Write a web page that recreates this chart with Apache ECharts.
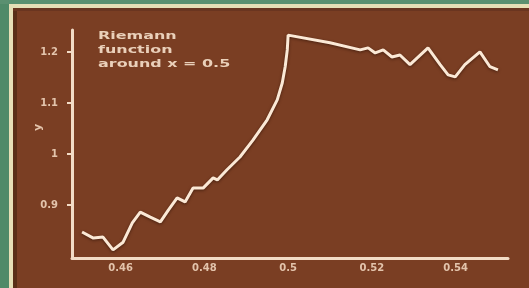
<!DOCTYPE html>
<html>
<head>
<meta charset="utf-8">
<script src="https://cdn.jsdelivr.net/npm/echarts@6/dist/echarts.min.js"></script>
<style>
html,body{margin:0;padding:0;background:#4f8a68;}
#c{width:529px;height:288px;}
</style>
</head>
<body>
<div id="c"></div>
<script>
// x values of the curve
const xs = [0.4508,0.4535,0.4558,0.4582,0.4606,0.4628,0.4647,0.4671,0.4695,0.4714,0.4735,0.4754,0.4773,0.4797,0.4821,0.4831,0.4854,0.4885,0.4916,0.4950,0.4974,0.4986,0.4993,0.4998,0.5000,0.5100,0.5172,0.5191,0.5208,0.5227,0.5248,0.5267,0.5291,0.5334,0.5363,0.5382,0.5399,0.5422,0.5458,0.5482,0.5501];
// y values of the curve
const ys = [0.847,0.835,0.837,0.812,0.827,0.865,0.886,0.876,0.867,0.890,0.914,0.906,0.933,0.933,0.953,0.949,0.969,0.994,1.027,1.067,1.106,1.139,1.171,1.204,1.233,1.218,1.204,1.208,1.198,1.204,1.190,1.194,1.175,1.208,1.175,1.155,1.151,1.175,1.200,1.171,1.165];
const xTicks = [0.46,0.48,0.5,0.52,0.54];
const yTicks = [0.9,1,1.1,1.2];
const noteLines = ['Riemann','function','around x = 0.5'];

const cream = '#f3dcc6';
const chart = echarts.init(document.getElementById('c'));
const data = xs.map((x,i)=>[x,ys[i]]);
chart.setOption({
  animation:false,
  backgroundColor:'#7a3e23',
  grid:{left:72,right:21,top:30,bottom:30},
  xAxis:{type:'value',min:0.4484,max:0.5525,
    axisLine:{lineStyle:{color:cream,width:3}},
    axisTick:{show:false},
    splitLine:{show:false},
    axisLabel:{color:'#e3c4ac',fontSize:10,fontWeight:'bold',fontFamily:'DejaVu Sans',margin:5,
      customValues:xTicks, formatter:v=>String(+v.toFixed(2))},
  },
  yAxis:{type:'value',min:0.796,max:1.243,
    axisLine:{show:true,lineStyle:{color:cream,width:3}},
    axisTick:{show:true,length:5,inside:false,customValues:yTicks,lineStyle:{color:cream,width:2}},
    splitLine:{show:false},
    axisLabel:{color:'#e3c4ac',fontSize:10,fontWeight:'bold',fontFamily:'DejaVu Sans',margin:14,
      customValues:yTicks, formatter:v=>String(+v.toFixed(1))},
  },
  series:[{type:'line',data:data,symbol:'none',
    lineStyle:{color:'#fbe9d6',width:3,shadowColor:'rgba(40,15,5,0.6)',shadowBlur:3,shadowOffsetY:1}}],
  graphic:[
    {type:'rect',left:0,top:0,shape:{width:9,height:288},style:{fill:'#4f8a68'},z:100},
    {type:'rect',left:0,top:0,shape:{width:529,height:4},style:{fill:'#5a9070'},z:100},
    {type:'rect',left:9,top:4,shape:{width:4,height:284},style:{fill:'#e6dfb6'},z:101},
    {type:'rect',left:9,top:4,shape:{width:520,height:4},style:{fill:'#e6dfb6'},z:101},
    {type:'rect',left:13,top:8,shape:{width:4,height:280},style:{fill:'#5a2e17'},z:101},
    {type:'rect',left:13,top:8,shape:{width:516,height:3},style:{fill:'#6a3520'},z:101},
    {type:'text',x:98,y:29,scaleX:1.45,style:{text:noteLines.join('\n'),fill:'#ead0ba',font:'bold 11px DejaVu Sans',lineHeight:14},z:50},
    {type:'text',x:33,y:131,rotation:Math.PI/2,style:{text:'y',fill:'#e3c4ac',font:'bold 11px DejaVu Sans'},z:50}
  ]
});
</script>
</body>
</html>
